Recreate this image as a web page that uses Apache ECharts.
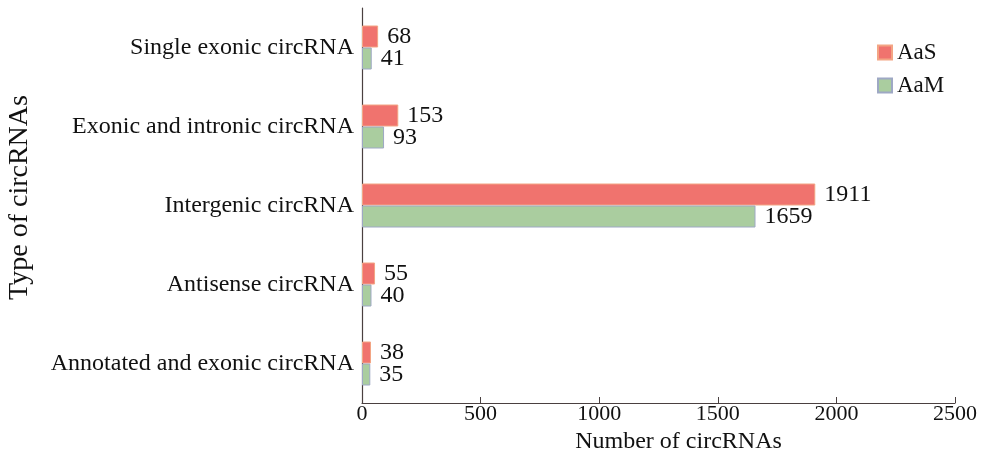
<!DOCTYPE html>
<html><head><meta charset="utf-8">
<script src="https://cdn.jsdelivr.net/npm/echarts@6/dist/echarts.min.js"></script>
<style>html,body{margin:0;padding:0;background:#fff}#c{width:982px;height:453px}</style>
</head><body><div id="c"></div>
<script>
const categories = ['Single exonic circRNA','Exonic and intronic circRNA','Intergenic circRNA','Antisense circRNA','Annotated and exonic circRNA'];
const aasValues = [68,153,1911,55,38];
const aamValues = [41,93,1659,40,35];
const xTicks = [0,500,1000,1500,2000,2500];
const font = '"Liberation Serif", "Times New Roman", serif';
const chart = echarts.init(document.getElementById('c'));
chart.setOption({
  animation:false,
  textStyle:{fontFamily:font},
  grid:{left:362,right:27,top:8,bottom:50,containLabel:false,outerBoundsMode:'none'},
  legend:{
    data:['AaS','AaM'], orient:'vertical', left:872, top:36,
    itemWidth:14, itemHeight:14, itemGap:10, icon:'rect',
    textStyle:{fontFamily:font,fontSize:23,color:'#111'}
  },
  xAxis:{
    type:'value', min:xTicks[0], max:xTicks[xTicks.length-1], interval:500,
    name:'Number of circRNAs', nameLocation:'middle', nameGap:21,
    nameTextStyle:{fontFamily:font,fontSize:24,color:'#111',padding:[0,0,0,40]},
    axisLine:{show:true,lineStyle:{color:'#4a4040',width:1.2}},
    axisTick:{show:true,inside:true,length:6,lineStyle:{color:'#4a4040'}},
    axisLabel:{fontFamily:font,fontSize:22,color:'#111',margin:0,formatter:function(v){return String(v);}},
    splitLine:{show:false}
  },
  yAxis:{
    type:'category', data:categories, inverse:true,
    name:'Type of circRNAs', nameLocation:'middle', nameGap:328, nameRotate:90,
    nameTextStyle:{fontFamily:font,fontSize:28,color:'#111',padding:[0,0,0,16]},
    axisLine:{show:true,lineStyle:{color:'#4a4040',width:1.2}},
    axisTick:{show:false},
    axisLabel:{fontFamily:font,fontSize:24,color:'#111',margin:8}
  },
  series:[
    {name:'AaS', type:'bar', data:aasValues, barWidth:22, barGap:'0%',
     itemStyle:{color:'#F0736E',borderColor:'#F3A584',borderWidth:1},
     label:{show:true,position:'right',distance:9,fontFamily:font,fontSize:24,color:'#111'}},
    {name:'AaM', type:'bar', data:aamValues, barWidth:22, barGap:'0%',
     itemStyle:{color:'#AACD9F',borderColor:'#9EA8C4',borderWidth:1},
     label:{show:true,position:'right',distance:9,fontFamily:font,fontSize:24,color:'#111'}}
  ]
});
</script></body></html>
